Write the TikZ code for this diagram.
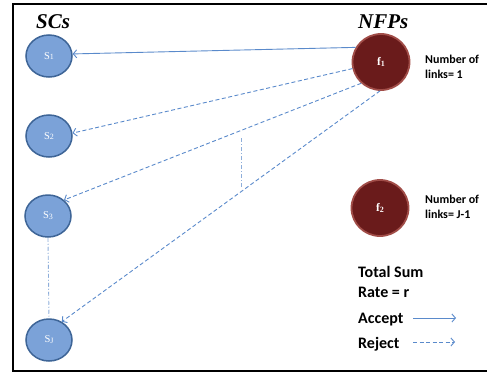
\documentclass[tikz,border=0pt]{standalone}
\usepackage{fontspec}
\setmainfont{Liberation Serif}
\newfontfamily\calib{Carlito}
\usetikzlibrary{arrows.meta,shapes.geometric}
\definecolor{sfill}{HTML}{7BA2D8}
\definecolor{sdraw}{HTML}{3E6597}
\definecolor{ffill}{HTML}{6A1B1B}
\definecolor{fdraw}{HTML}{A14D48}
\definecolor{lnk}{HTML}{5A8ACB}
\definecolor{ddc}{HTML}{8EAEDA}
\newcommand\mysubidx[1]{{\fontsize{8}{9}\selectfont\raisebox{-0.9pt}{#1}}}
\begin{document}
\begin{tikzpicture}[x=1pt,y=-1pt,
  snode/.style={ellipse, minimum width=46pt, minimum height=42pt, inner sep=0pt,
    fill=sfill, draw=sdraw, line width=1.5pt, text=white,
    font=\fontsize{10.5}{11}\selectfont},
  fnode/.style={ellipse, minimum width=57pt, minimum height=56pt, inner sep=0pt,
    fill=ffill, draw=fdraw, line width=1.8pt, text=white,
    font=\bfseries\fontsize{11.5}{12}\selectfont},
  accept/.style={draw=lnk, line width=0.9pt, -{Straight Barb[length=3.5pt,width=8pt]}},
  reject/.style={accept, dash pattern=on 4pt off 2.5pt},
  ddot/.style={draw=ddc, line width=0.9pt, dash pattern=on 4pt off 2pt on 1pt off 2pt},
  title/.style={font=\bfseries\itshape\fontsize{21}{24}\selectfont, inner sep=0pt},
  small/.style={font=\calib\bfseries\fontsize{12}{15}\selectfont, inner sep=0pt, align=left},
  big/.style={font=\calib\bfseries\fontsize{16}{20}\selectfont, inner sep=0pt, align=left}
]
\useasboundingbox (0,0) rectangle (487,375);
% frame (open on the right)
\draw[line width=2pt] (490,4) -- (13,4) -- (13,371) -- (490,371);

% titles
\node[title, anchor=base west] (sct) at (36,28) {SCs};
\node[title, anchor=base west] (nfp) at (358,28) {NFPs};

% SC nodes
\node[snode] (s1) at (49,56) {S\mysubidx{1}};
\node[snode] (s2) at (49,136) {S\mysubidx{2}};
\node[snode] (s3) at (48,216) {S\mysubidx{3}};
\node[snode] (sJ) at (49,340) {S\mysubidx{J}};

% NFP nodes
\node[fnode] (f1) at (381,62) {f\mysubidx{1}};
\node[fnode] (f2) at (380,208) {f\mysubidx{2}};

% links
\draw[accept] (f1.150) -- (s1.5);
\draw[reject] (f1.193) -- (s2.7);
\draw[reject] (f1.227) -- (s3.45);
\draw[reject] (f1.268) -- (sJ.55);

% dash-dot continuation marks
\coordinate (v1) at (241,138);
\coordinate (v2) at (241,188);
\draw[ddot] (v1) -- (v2);
\draw[ddot] (s3.south) -- (sJ.north);

% labels
\node[small, anchor=west] (n1) at (425,67) {Number of\\links= 1};
\node[small, anchor=west] (n2) at (425,207) {Number of\\links= J-1};
\node[big, anchor=west] (ts) at (358,282) {Total Sum\\Rate = r};
\node[big, anchor=base west] (acc) at (358,323) {Accept};
\node[big, anchor=base west] (rej) at (358,348) {Reject};

% legend arrows
\coordinate (a1) at (413,318);
\coordinate (a2) at (456,318);
\coordinate (r1) at (413,342);
\coordinate (r2) at (455,342);
\draw[accept] (a1) -- (a2);
\draw[reject] (r1) -- (r2);
\end{tikzpicture}
\end{document}
